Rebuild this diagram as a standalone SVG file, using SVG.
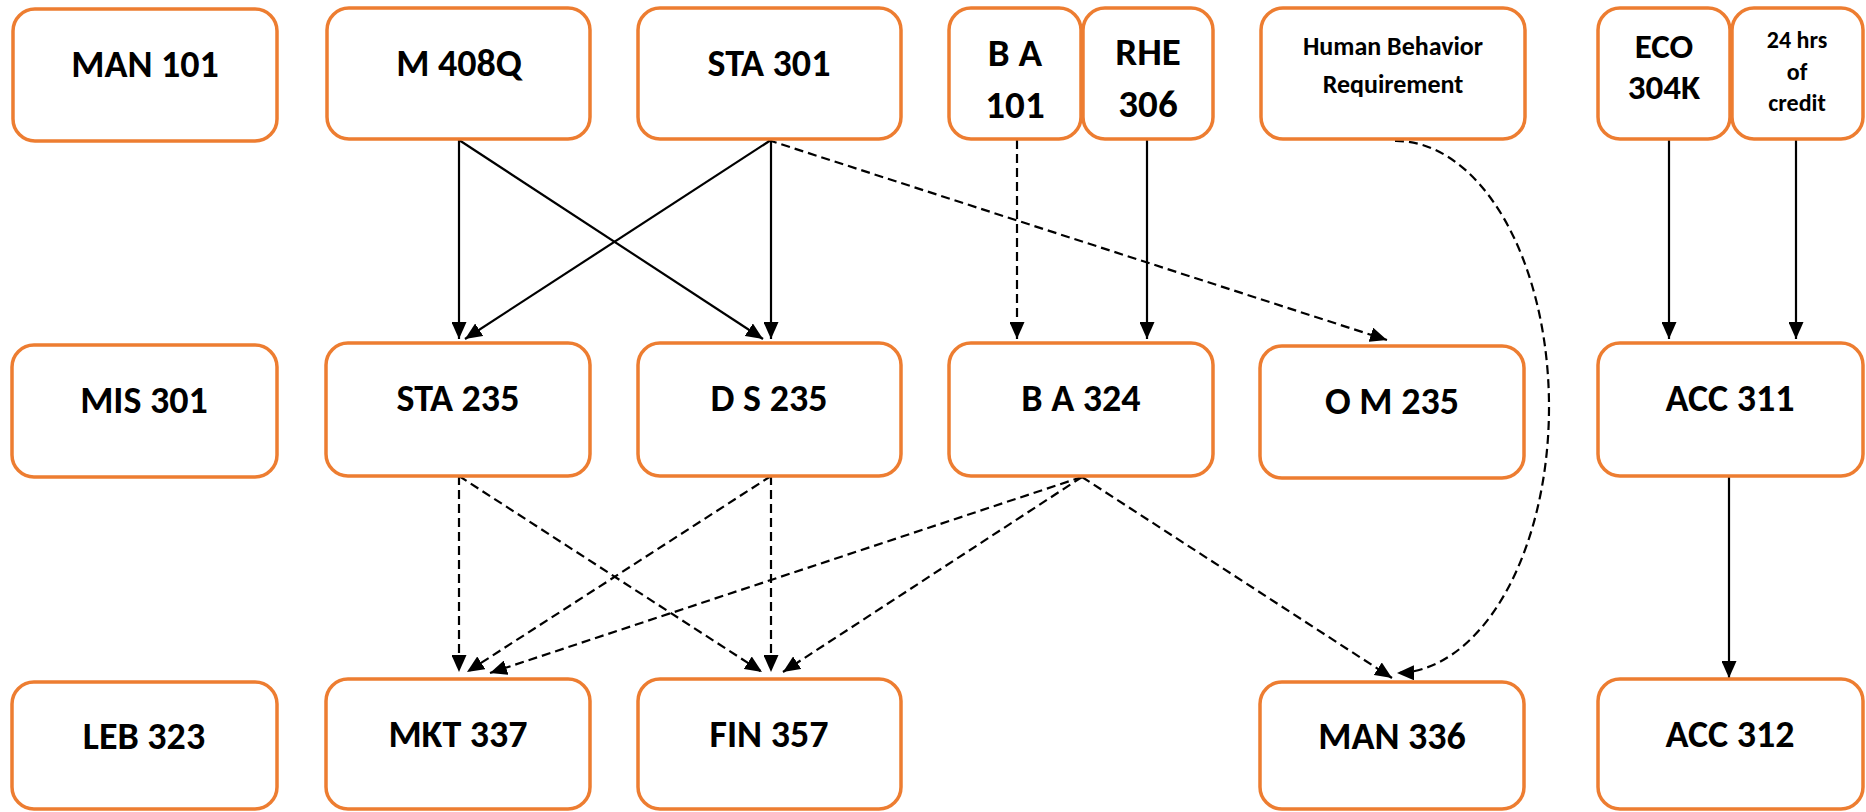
<svg xmlns="http://www.w3.org/2000/svg" width="1866" height="812" viewBox="0 0 1866 812">
<style>
.box{fill:#fff;stroke:#ED7D31;stroke-width:3.5}
.t{font-family:Carlito,Lato,"Liberation Sans",sans-serif;font-weight:900;fill:#000;text-anchor:middle}
.m{font-size:38px}
.n{font-size:39px}
.e{font-size:35px}
.s{font-size:24px}
.h{font-size:26px}
.c{fill:none;stroke:#000;stroke-width:2.2;marker-end:url(#ah)}
.d{stroke-dasharray:9 5}
</style>
<defs>
<marker id="ah" markerUnits="userSpaceOnUse" markerWidth="17" markerHeight="15" refX="17" refY="7.5" orient="auto">
<path d="M0,0 L17,7.5 L0,15 Z" fill="#000"/>
</marker>
</defs>
<g id="connectors">
<path class="c" d="M459,140 L459,339"/>
<path class="c" d="M459,140 L763,339"/>
<path class="c" d="M771,140 L771,339"/>
<path class="c" d="M771,140 L465,339"/>
<path class="c d" d="M768,140 L1387,340"/>
<path class="c d" d="M1017,140 L1017,339"/>
<path class="c" d="M1147,140 L1147,339"/>
<path class="c d" d="M1395,141 A153,266 0 0 1 1397,673"/>
<path class="c" d="M1669,140 L1669,339"/>
<path class="c" d="M1796,140 L1796,339"/>
<path class="c" d="M1729,477 L1729,678"/>
<path class="c d" d="M459,476 L459,672"/>
<path class="c d" d="M459,476 L762,672"/>
<path class="c d" d="M771,476 L771,672"/>
<path class="c d" d="M771,476 L467,672"/>
<path class="c d" d="M1082,477 L490,673"/>
<path class="c d" d="M1082,477 L783,672"/>
<path class="c d" d="M1082,477 L1392,678"/>
</g>
<g id="man101"><rect class="box" x="13" y="9" width="264" height="132" rx="22"/><text class="t m" x="145" y="77">MAN 101</text></g>
<g id="m408q"><rect class="box" x="327" y="8" width="263" height="131" rx="22"/><text class="t m" x="459" y="76">M 408Q</text></g>
<g id="sta301"><rect class="box" x="638" y="8" width="263" height="131" rx="22"/><text class="t m" x="769" y="76">STA 301</text></g>
<g id="ba101"><rect class="box" x="949" y="8" width="132" height="131" rx="22"/><text class="t n" x="1015" y="66">B A</text><text class="t n" x="1015" y="118">101</text></g>
<g id="rhe306"><rect class="box" x="1083" y="8" width="130" height="131" rx="22"/><text class="t n" x="1148" y="65">RHE</text><text class="t n" x="1148" y="117">306</text></g>
<g id="humanbehavior"><rect class="box" x="1261" y="8" width="264" height="131" rx="22"/><text class="t h" x="1393" y="55">Human Behavior</text><text class="t h" x="1393" y="93">Requirement</text></g>
<g id="eco304k"><rect class="box" x="1598" y="8" width="132" height="131" rx="22"/><text class="t e" x="1664" y="58">ECO</text><text class="t e" x="1664" y="99">304K</text></g>
<g id="hrs24"><rect class="box" x="1732" y="8" width="131" height="131" rx="22"/><text class="t s" x="1797" y="48">24 hrs</text><text class="t s" x="1797" y="80">of</text><text class="t s" x="1797" y="111">credit</text></g>
<g id="mis301"><rect class="box" x="12" y="345" width="265" height="132" rx="22"/><text class="t m" x="144" y="413">MIS 301</text></g>
<g id="sta235"><rect class="box" x="326" y="343" width="264" height="133" rx="22"/><text class="t m" x="458" y="411">STA 235</text></g>
<g id="ds235"><rect class="box" x="638" y="343" width="263" height="133" rx="22"/><text class="t m" x="769" y="411">D S 235</text></g>
<g id="ba324"><rect class="box" x="949" y="343" width="264" height="133" rx="22"/><text class="t m" x="1081" y="411">B A 324</text></g>
<g id="om235"><rect class="box" x="1260" y="346" width="264" height="132" rx="22"/><text class="t m" x="1392" y="414">O M 235</text></g>
<g id="acc311"><rect class="box" x="1598" y="343" width="265" height="133" rx="22"/><text class="t m" x="1730" y="411">ACC 311</text></g>
<g id="leb323"><rect class="box" x="12" y="682" width="265" height="127" rx="22"/><text class="t m" x="144" y="749">LEB 323</text></g>
<g id="mkt337"><rect class="box" x="326" y="679" width="264" height="130" rx="22"/><text class="t m" x="458" y="747">MKT 337</text></g>
<g id="fin357"><rect class="box" x="638" y="679" width="263" height="130" rx="22"/><text class="t m" x="769" y="747">FIN 357</text></g>
<g id="man336"><rect class="box" x="1260" y="682" width="264" height="127" rx="22"/><text class="t m" x="1392" y="749">MAN 336</text></g>
<g id="acc312"><rect class="box" x="1598" y="679" width="265" height="130" rx="22"/><text class="t m" x="1730" y="747">ACC 312</text></g>
</svg>
